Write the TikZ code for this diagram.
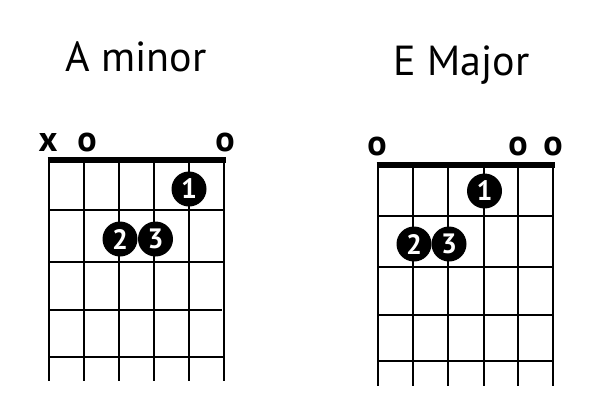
\documentclass[tikz,border=0pt]{standalone}
\usepackage{fontspec}
\setmainfont{PT Sans}
\begin{document}
\begin{tikzpicture}[x=1pt,y=-1pt,
  gridline/.style={line width=2.4pt,color=black},
  nutbar/.style={line width=5.5pt,color=black},
  finger/.style={circle,fill=black,minimum size=35pt,inner sep=0pt,text=white,font=\bfseries\fontsize{28}{28}\selectfont},
  openmark/.style={font=\bfseries\fontsize{36}{36}\selectfont,inner sep=0pt},
  title/.style={font=\fontsize{42}{42}\selectfont,anchor=base,inner sep=0pt}]
\useasboundingbox (0,0) rectangle (613,405);
% ---------- A minor ----------
\node[title] (tA) at (136,71.7) {A minor};
\foreach \x in {49,84,119,154,189,224}{\draw[gridline] (\x,160) -- (\x,381);}
\foreach \y in {210,262,357}{\draw[gridline] (49,\y) -- (224,\y);}
\draw[gridline] (49,310) -- (221.5,310);
\draw[nutbar] (47.5,160) -- (225.5,160);
\node[openmark] (ax) at (48,142) {x};
\node[openmark] (ao1) at (87,142) {o};
\node[openmark] (ao2) at (225,142) {o};
\node[finger] (a1) at (189,189) {1};
\node[finger] (a2) at (120,239) {2};
\node[finger] (a3) at (155.5,239) {3};
% ---------- E Major ----------
\node[title] (tE) at (461.7,75) {E Major};
\foreach \x in {378,413,448,484,518,553}{\draw[gridline] (\x,165) -- (\x,386);}
\foreach \y in {216,267,361}{\draw[gridline] (378,\y) -- (553,\y);}
\draw[gridline] (378,315) -- (551.5,315);
\draw[nutbar] (376.5,165) -- (554.5,165);
\node[openmark] (eo1) at (377,146) {o};
\node[openmark] (eo2) at (518,146) {o};
\node[openmark] (eo3) at (553,146) {o};
\node[finger] (e1) at (484.5,191) {1};
\node[finger] (e2) at (414,244) {2};
\node[finger] (e3) at (449,244) {3};
\end{tikzpicture}
\end{document}
